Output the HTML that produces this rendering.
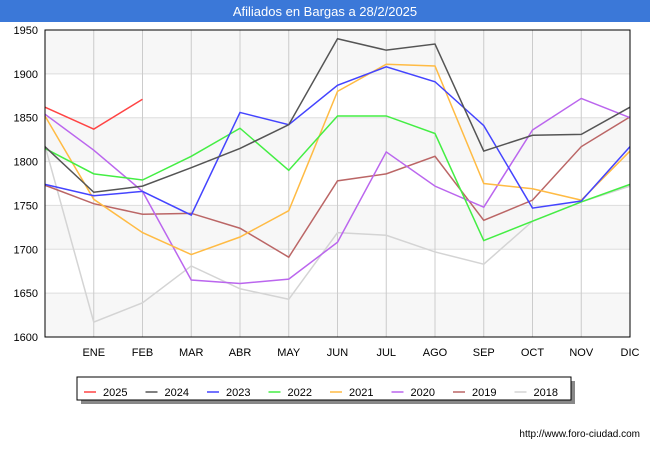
<!DOCTYPE html>
<html><head><meta charset="utf-8"><style>
body{margin:0;width:650px;height:450px;background:#fff;font-family:"Liberation Sans",sans-serif;overflow:hidden}
</style></head><body>
<svg width="650" height="450" xmlns="http://www.w3.org/2000/svg">
<rect x="0" y="0" width="650" height="22" fill="#3b78d8"/>
<text x="325" y="16" fill="#fff" font-size="13" text-anchor="middle">Afiliados en Bargas a 28/2/2025</text>
<g id="bands"></g><g id="grid"></g><g id="ylabels"></g><g id="xlabels"></g><g id="lines"></g>
<rect x="45" y="30" width="585" height="307" fill="none" stroke="#000" stroke-width="1"/>
<rect x="81" y="381" width="494" height="23" fill="#888"/>
<rect x="77" y="377" width="494" height="23" fill="#fff" stroke="#000"/>
<g id="legend"></g>
<text x="640" y="437" font-size="10" text-anchor="end" fill="#000">http://www.foro-ciudad.com</text>
</svg>
<script>
const months=["","ENE","FEB","MAR","ABR","MAY","JUN","JUL","AGO","SEP","OCT","NOV","DIC"];
const yTicks=[1600,1650,1700,1750,1800,1850,1900,1950];
const seriesNames=["2025","2024","2023","2022","2021","2020","2019","2018"];
const seriesColors=["#ff4444","#555555","#4444ff","#44ee44","#ffbb44","#bb66ee","#bb6666","#d4d4d4"];
const s2025=[1862,1837,1871];
const s2024=[1817,1765,1772,1793,1815,1842,1940,1927,1934,1812,1830,1831,1862];
const s2023=[1774,1761,1766,1739,1856,1842,1887,1908,1891,1841,1747,1755,1817];
const s2022=[1815,1786,1779,1806,1838,1790,1852,1852,1832,1710,1732,1754,1774];
const s2021=[1852,1757,1719,1694,1714,1744,1880,1911,1909,1775,1769,1756,1812];
const s2020=[1854,1813,1766,1665,1661,1666,1708,1811,1772,1748,1836,1872,1850];
const s2019=[1773,1752,1740,1741,1724,1691,1778,1786,1806,1733,1756,1817,1851];
const s2018=[1818,1617,1639,1681,1655,1643,1719,1716,1697,1683,1732,1754,1772];
const seriesData=[s2025,s2024,s2023,s2022,s2021,s2020,s2019,s2018];
const NS="http://www.w3.org/2000/svg";
const X0=45,X1=630,Y0=337,Y1=30;
const xs=i=>X0+i*(X1-X0)/(months.length-1);
const ys=v=>Y0-(v-1600)*(Y0-Y1)/(1950-1600);
function mk(t,a,p){const e=document.createElementNS(NS,t);for(const k in a)e.setAttribute(k,a[k]);document.getElementById(p).appendChild(e);return e;}
for(let i=0;i<yTicks.length-1;i++){
 if((yTicks.length-2-i)%2===0){const r=mk("rect",{x:X0,y:ys(yTicks[i+1]),width:X1-X0,height:ys(yTicks[i])-ys(yTicks[i+1]),fill:"#f7f7f7"},"bands");
 
 }
}
yTicks.forEach(v=>{const l=mk("line",{x1:X0,x2:X1,y1:ys(v),y2:ys(v),stroke:"#dddddd"},"grid");


const t=mk("text",{x:38,y:ys(v)+4,"font-size":11,"text-anchor":"end",fill:"#000"},"ylabels");t.textContent=v;

});
months.forEach((m,i)=>{const l=mk("line",{x1:xs(i),x2:xs(i),y1:Y1,y2:Y0,stroke:"#cccccc"},"grid");


const t=mk("text",{x:xs(i),y:356,"font-size":11,"text-anchor":"middle",fill:"#000"},"xlabels");t.textContent=m;

});
for(let s=seriesData.length-1;s>=0;s--){const pts=seriesData[s].map((v,i)=>xs(i)+","+ys(v)).join(" ");
const p=mk("polyline",{points:pts,fill:"none",stroke:seriesColors[s],"stroke-width":1.5},"lines");

}
seriesNames.forEach((n,i)=>{const x=84+i*61.5;
const l=mk("line",{x1:x,x2:x+12,y1:392,y2:392,stroke:seriesColors[i],"stroke-width":1.5},"legend");


const t=mk("text",{x:x+19,y:396,"font-size":11,fill:"#000"},"legend");t.textContent=n;

});
</script>
</body></html>
